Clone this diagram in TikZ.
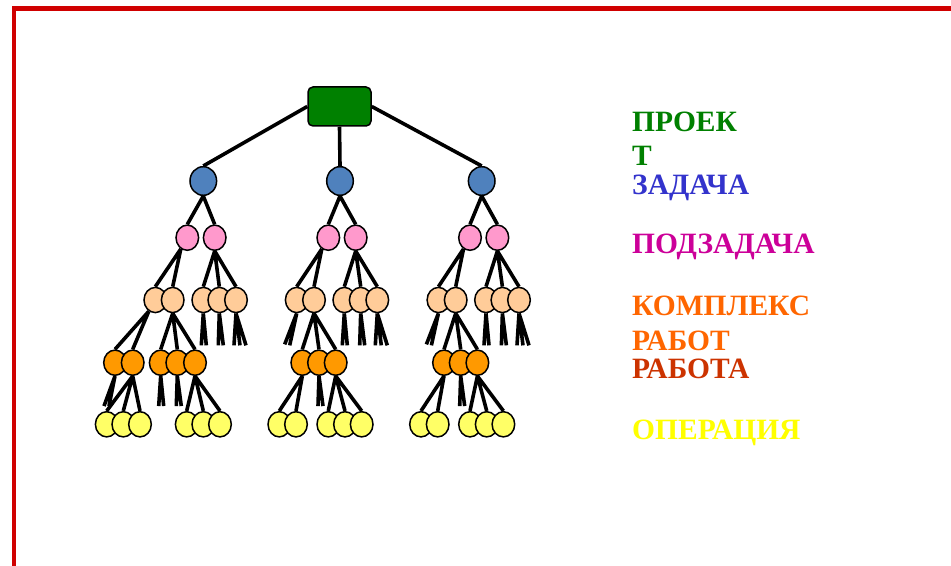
\documentclass[tikz,border=0pt]{standalone}
\usepackage{fontspec}
\setmainfont{Liberation Serif}
\usetikzlibrary{shapes.geometric,backgrounds}

\definecolor{framered}{RGB}{208,0,0}
\definecolor{prjgreen}{RGB}{0,128,0}
\definecolor{zadfill}{RGB}{79,129,189}
\definecolor{pzfill}{RGB}{255,153,204}
\definecolor{krfill}{RGB}{255,204,153}
\definecolor{rabfill}{RGB}{255,153,0}
\definecolor{opfill}{RGB}{255,255,102}
\definecolor{zadtext}{RGB}{51,51,204}
\definecolor{pztext}{RGB}{204,0,153}
\definecolor{krtext}{RGB}{255,102,0}
\definecolor{rabtext}{RGB}{204,51,0}
\definecolor{optext}{RGB}{255,255,0}

\tikzset{
  elt/.style={ellipse,draw,line width=1.5bp,inner sep=0pt,minimum width=22.6bp,minimum height=25.2bp},
  zad/.style={elt,fill=zadfill,minimum width=26.6bp,minimum height=28.6bp},
  pz/.style={elt,fill=pzfill},
  kr/.style={elt,fill=krfill},
  rab/.style={elt,fill=rabfill},
  op/.style={elt,fill=opfill},
  link/.style={line width=3.6bp},
  lbl/.style={anchor=base west,inner sep=0pt,font=\fontsize{29.6}{29.6}\selectfont\bfseries}
}

\begin{document}
\begin{tikzpicture}[x=1bp,y=-1bp]
\useasboundingbox (0,0) rectangle (951,566);
\draw[framered,line width=4.8bp] (14,8.5) rectangle (975,568);

\node[rectangle,rounded corners=5bp,draw,line width=1.5bp,fill=prjgreen,minimum width=63bp,minimum height=39bp] (prj) at (339.5,106.5) {};

% first branch
\node[zad] (zad1) at (203.3,181) {};
\node[pz] (pz11) at (187.3,237.7) {};
\node[pz] (pz12) at (214.7,237.7) {};
\node[kr] (kr11) at (155.3,300) {};
\node[kr] (kr12) at (172.7,300) {};
\node[kr] (kr13) at (203.3,300) {};
\node[kr] (kr14) at (219.3,300) {};
\node[kr] (kr15) at (236,300) {};
\node[rab] (rab11) at (115,362.7) {};
\node[rab] (rab12) at (132.7,362.7) {};
\node[rab] (rab13) at (160.7,362.7) {};
\node[rab] (rab14) at (177.3,362.7) {};
\node[rab] (rab15) at (195,362.7) {};
\node[op] (op11) at (106.7,424.3) {};
\node[op] (op12) at (123.3,424.3) {};
\node[op] (op13) at (140,424.3) {};
\node[op] (op14) at (186.7,424.3) {};
\node[op] (op15) at (203.3,424.3) {};
\node[op] (op16) at (220,424.3) {};
\begin{scope}[on background layer]
\draw[link] (zad1.south) -- (pz11.north) (zad1.south) -- (pz12.north);
\draw[link] (pz11.240) -- (kr11.north) (pz11.240) -- (kr12.north);
\draw[link] (pz12.south) -- (kr13.north) (pz12.south) -- (kr14.north) (pz12.south) -- (kr15.north);
\draw[link] (kr11.240) -- (rab11.north) (kr11.240) -- (rab12.north);
\draw[link] (kr12.south) -- (rab13.north) (kr12.south) -- (rab14.north) (kr12.south) -- (rab15.north);
\draw[link] (rab12.south) -- (op11.north) (rab12.south) -- (op12.north) (rab12.south) -- (op13.north);
\draw[link] (rab15.south) -- (op14.north) (rab15.south) -- (op15.north) (rab15.south) -- (op16.north);
\draw[link] (kr13.south) -- ++(-2,32) (kr13.south) -- ++(3,32);
\draw[link] (kr14.south) -- ++(-1,32) (kr14.south) -- ++(4,32);
\draw[link] (kr15.south) -- ++(-2,32) (kr15.south) -- ++(4,32) (kr15.south) -- ++(10,32);
\draw[link] (rab11.south) -- ++(-11,30) (rab11.south) -- ++(-6,30);
\draw[link] (rab13.south) -- ++(-2,30) (rab13.south) -- ++(3,30);
\draw[link] (rab14.south) -- ++(-1,30) (rab14.south) -- ++(4,30);
\end{scope}

% second and third branch
\foreach \t/\dx in {2/0,3/141.7}{
\begin{scope}[xshift=\dx bp]
\node[zad] (zad\t) at (340,181) {};
\node[pz] (pz\t1) at (328.3,237.7) {};
\node[pz] (pz\t2) at (355.7,237.7) {};
\node[kr] (kr\t1) at (296.7,300) {};
\node[kr] (kr\t2) at (314,300) {};
\node[kr] (kr\t3) at (344.3,300) {};
\node[kr] (kr\t4) at (360.7,300) {};
\node[kr] (kr\t5) at (377.3,300) {};
\node[rab] (rab\t1) at (302.3,362.7) {};
\node[rab] (rab\t2) at (319,362.7) {};
\node[rab] (rab\t3) at (335.7,362.7) {};
\node[op] (op\t1) at (279.3,424.3) {};
\node[op] (op\t2) at (296,424.3) {};
\node[op] (op\t3) at (328.3,424.3) {};
\node[op] (op\t4) at (345,424.3) {};
\node[op] (op\t5) at (361.7,424.3) {};
\begin{scope}[on background layer]
\draw[link] (zad\t.south) -- (pz\t1.north) (zad\t.south) -- (pz\t2.north);
\draw[link] (pz\t1.240) -- (kr\t1.north) (pz\t1.240) -- (kr\t2.north);
\draw[link] (pz\t2.south) -- (kr\t3.north) (pz\t2.south) -- (kr\t4.north) (pz\t2.south) -- (kr\t5.north);
\draw[link] (kr\t2.south) -- (rab\t1.north) (kr\t2.south) -- (rab\t2.north) (kr\t2.south) -- (rab\t3.north);
\draw[link] (rab\t1.south) -- (op\t1.north) (rab\t1.south) -- (op\t2.north);
\draw[link] (rab\t3.south) -- (op\t3.north) (rab\t3.south) -- (op\t4.north) (rab\t3.south) -- (op\t5.north);
\draw[link] (kr\t1.south) -- ++(-12,31) (kr\t1.south) -- ++(-7,32);
\draw[link] (kr\t3.south) -- ++(-2,32) (kr\t3.south) -- ++(3,32);
\draw[link] (kr\t4.south) -- ++(-1,32) (kr\t4.south) -- ++(4,32);
\draw[link] (kr\t5.south) -- ++(-2,32) (kr\t5.south) -- ++(4,32) (kr\t5.south) -- ++(10,32);
\draw[link] (rab\t2.south) -- ++(-1,30) (rab\t2.south) -- ++(4,30);
\end{scope}
\end{scope}
}

\begin{scope}[on background layer]
\draw[link] (prj.west) -- (zad1.north);
\draw[link] (prj.south) -- (zad2.north);
\draw[link] (prj.east) -- (zad3.north);
\end{scope}

\node[lbl,text=prjgreen] (lprj1) at (632,131.7) {ПРОЕК};
\node[lbl,text=prjgreen] (lprj2) at (632,165.7) {Т};
\node[lbl,text=zadtext] (lzad) at (632,194.3) {ЗАДАЧА};
\node[lbl,text=pztext] (lpz) at (632,253.6) {ПОДЗАДАЧА};
\node[lbl,text=krtext] (lkr1) at (632,315.5) {КОМПЛЕКС};
\node[lbl,text=krtext] (lkr2) at (632,350.5) {РАБОТ};
\node[lbl,text=rabtext] (lrab) at (632,378) {РАБОТА};
\node[lbl,text=optext] (lop) at (632,439) {ОПЕРАЦИЯ};
\end{tikzpicture}
\end{document}
